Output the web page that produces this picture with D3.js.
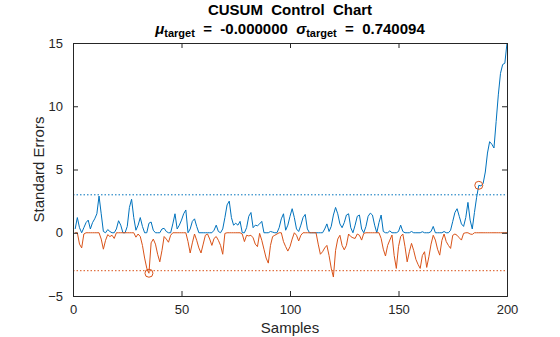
<!DOCTYPE html>
<html><head><meta charset="utf-8">
<script src="https://cdn.jsdelivr.net/npm/d3@7"></script>
<style>
html,body{margin:0;padding:0;background:#fff;}
text{font-family:"Liberation Sans",Arial,Helvetica,sans-serif;}
</style></head>
<body><svg id="c" width="560" height="337"></svg>
<script>
const upper = [0.3,1.2,0.4,0,0.4,0.8,1.0,0.3,0.8,1.1,
1.5,2.9,1.5,0.1,0,0.25,0.1,0,0,0.3,
0.95,0.6,0,0,0.5,2.0,2.65,1.2,0.2,0.6,
1.2,0.5,0,0,0.75,0.85,0.2,0,0,0,
0.3,0.35,0.1,0,0,0.7,1.5,0.3,0.6,1.0,
1.5,1.8,0,0.3,0.9,1.1,0.5,0,0,0,
0,0,0,0,0.2,0.6,0.1,0,0.3,1.2,
2.2,2.5,1.2,0.6,0.75,0.6,0.9,0,0,0.4,
1.3,1.6,0.4,0.6,0.55,0.7,0.9,0,0,0,
0.1,0.05,0,0,0.4,1.1,1.5,0.2,0.6,1.3,
1.9,1.2,0.3,0.1,0.6,1.2,1.45,0.3,0,0,
0,0,0,0,0,0.3,0.7,0.1,0.5,1.4,
2.0,1.5,0.7,0.4,0.8,1.4,1.5,0.4,0,0.6,
1.3,1.4,0.3,0,0.5,1.3,1.55,1.4,0.6,0,
0.8,1.4,0.1,0,0,0.15,0,0,0,0.1,
0.6,0.1,0,0,0,0.1,0,0,0,0,
0.08,0,0,0,0.1,0.5,0,0,0,0,
0.1,0,0,0.2,0.9,1.6,1.9,1.3,0.7,0.5,
1.2,2.4,1.0,0.3,1.6,2.8,3.75,3.7,3.9,4.8,
6.3,7.2,7.0,6.7,8.8,10.9,12.6,13.3,13.4,15.0];
const lower = [0,0,-0.9,-1.2,-0.1,0,0,0,0,0,
0,0,-0.5,-1.3,-0.6,-0.15,-0.3,-0.2,-0.45,0,
0,0,0,0,0,0,0,0,-0.35,-0.1,
-0.3,-1.0,-2.0,-2.8,-3.2,-0.8,-0.5,-0.9,-1.7,-2.3,
-1.4,-0.3,-0.5,-0.75,-0.2,0,0,0,0,0,
0,0,-0.7,-1.6,-0.8,-0.1,-0.6,-1.2,-1.6,-0.9,
-0.2,-0.1,-0.5,-1.0,-0.45,-0.3,-0.6,-1.0,-1.7,-0.05,
0,0,0,0,0,0,0,-0.1,-0.7,-0.2,
-0.25,-0.2,-0.4,-0.9,-1.1,-0.05,-0.6,-1.3,-2.0,-2.4,
-1.0,-0.3,-0.2,-0.1,0,0,-0.7,-1.1,-1.45,-1.1,
-0.5,0,-0.2,-0.65,-0.2,0,0,0,0,0,
0,0,-0.9,-1.7,-1.5,-1.2,-1.0,-1.8,-2.8,-3.5,
-1.4,-0.5,-0.2,-1.0,-1.35,-1.0,-0.1,-0.3,-0.4,-0.45,
-0.1,-0.2,-0.58,-0.05,0,0,0,0,0,0,
0,-0.45,-1.3,-1.84,-1.0,-0.58,-0.18,-1.8,-2.82,-1.1,
-0.3,-0.1,-1.1,-2.3,-1.5,-0.84,-1.4,-2.1,-2.5,-2.82,
-1.8,-1.5,-2.74,-1.9,-0.9,-0.2,-0.58,-1.3,-1.77,-0.6,
-0.1,-0.7,-1.0,-1.24,-0.2,-0.1,-0.2,-0.4,-0.58,-0.05,
0,0,-0.1,-0.13,0,0,0,0,0,0,
0,0,0,0,0,0,0,0,0,0];
const samples = upper.map((d,i)=>i+1);
const thresholdHigh = 3, thresholdLow = -3;
const outUpper = [187], outLower = [35];
const xTicks = [0,50,100,150,200];
const yTicks = [-5,0,5,10,15];
const titleMain = "CUSUM  Control  Chart";
const muTarget = "-0.000000", sigmaTarget = "0.740094";

const svg = d3.select("#c");
const L=73,R=507,T=43,B=296;
const x = d3.scaleLinear().domain([0,200]).range([L,R]);
const y = d3.scaleLinear().domain([-5,15]).range([B,T]);
const blue="#0072BD", orange="#D95319", axc="#262626";

const clip = svg.append("clipPath").attr("id","cp").append("rect")
  .attr("x",L).attr("y",T).attr("width",R-L).attr("height",B-T);
const g = svg.append("g").attr("clip-path","url(#cp)");

g.append("line").attr("x1",x(0)).attr("x2",x(200)).attr("y1",y(thresholdHigh)).attr("y2",y(thresholdHigh))
 .attr("stroke",blue).attr("stroke-width",1).attr("stroke-dasharray","1.5,2");
g.append("line").attr("x1",x(0)).attr("x2",x(200)).attr("y1",y(thresholdLow)).attr("y2",y(thresholdLow))
 .attr("stroke",orange).attr("stroke-width",1).attr("stroke-dasharray","1.5,2");

const line = d3.line().x((d,i)=>x(samples[i])).y(d=>y(d));
g.append("path").datum(upper).attr("d",line).attr("fill","none").attr("stroke",blue).attr("stroke-width",1);
g.append("path").datum(lower).attr("d",line).attr("fill","none").attr("stroke",orange).attr("stroke-width",1);

svg.selectAll("circle.u").data(outUpper).enter().append("circle")
 .attr("cx",d=>x(d)).attr("cy",d=>y(upper[d-1])).attr("r",4)
 .attr("fill","none").attr("stroke",orange).attr("stroke-width",1);
svg.selectAll("circle.l").data(outLower).enter().append("circle")
 .attr("cx",d=>x(d)).attr("cy",d=>y(lower[d-1])).attr("r",4)
 .attr("fill","none").attr("stroke",orange).attr("stroke-width",1);

// axes
const xa = svg.append("g").attr("transform",`translate(0,${B})`)
 .call(d3.axisBottom(x).tickValues(xTicks).tickSize(-5).tickPadding(9).tickFormat(d3.format("d")));
const xt = svg.append("g").attr("transform",`translate(0,${T})`)
 .call(d3.axisTop(x).tickValues(xTicks).tickSize(-5).tickFormat(""));
const ya = svg.append("g").attr("transform",`translate(${L},0)`)
 .call(d3.axisLeft(y).tickValues(yTicks).tickSize(-5).tickPadding(9).tickFormat(d3.format("d")));
const yr = svg.append("g").attr("transform",`translate(${R},0)`)
 .call(d3.axisRight(y).tickValues(yTicks).tickSize(-5).tickFormat(""));
[xa,xt,ya,yr].forEach(a=>{
  a.select(".domain").attr("stroke",axc).attr("stroke-width",1);
  a.selectAll(".tick line").attr("stroke",axc);
  a.selectAll("text").attr("fill",axc).style("font-size","13px").style("font-family","'Liberation Sans',Arial,sans-serif");
});
ya.selectAll("text").attr("dx","-1");

svg.append("text").attr("x",(L+R)/2).attr("y",333).attr("text-anchor","middle")
 .attr("fill",axc).style("font-size","15px").text("Samples");
svg.append("text").attr("transform",`translate(44,${(T+B)/2}) rotate(-90)`).attr("text-anchor","middle")
 .attr("fill",axc).style("font-size","15px").text("Standard Errors");

svg.append("text").attr("x",(L+R)/2).attr("y",15).attr("text-anchor","middle")
 .attr("fill","#000").style("font-size","15px").style("font-weight","bold").style("white-space","pre")
 .text(titleMain);
const t2 = svg.append("text").attr("x",(L+R)/2).attr("y",34).attr("text-anchor","middle")
 .attr("fill","#000").style("font-size","15px").style("font-weight","bold").style("white-space","pre");
t2.append("tspan").style("font-style","italic").text("μ");
t2.append("tspan").attr("dy",3).style("font-size","11px").text("target");
t2.append("tspan").attr("dy",-3).text("  =  " + muTarget + "  ");
t2.append("tspan").style("font-style","italic").text("σ");
t2.append("tspan").attr("dy",3).style("font-size","11px").text("target");
t2.append("tspan").attr("dy",-3).text("  =  " + sigmaTarget);
</script></body></html>
